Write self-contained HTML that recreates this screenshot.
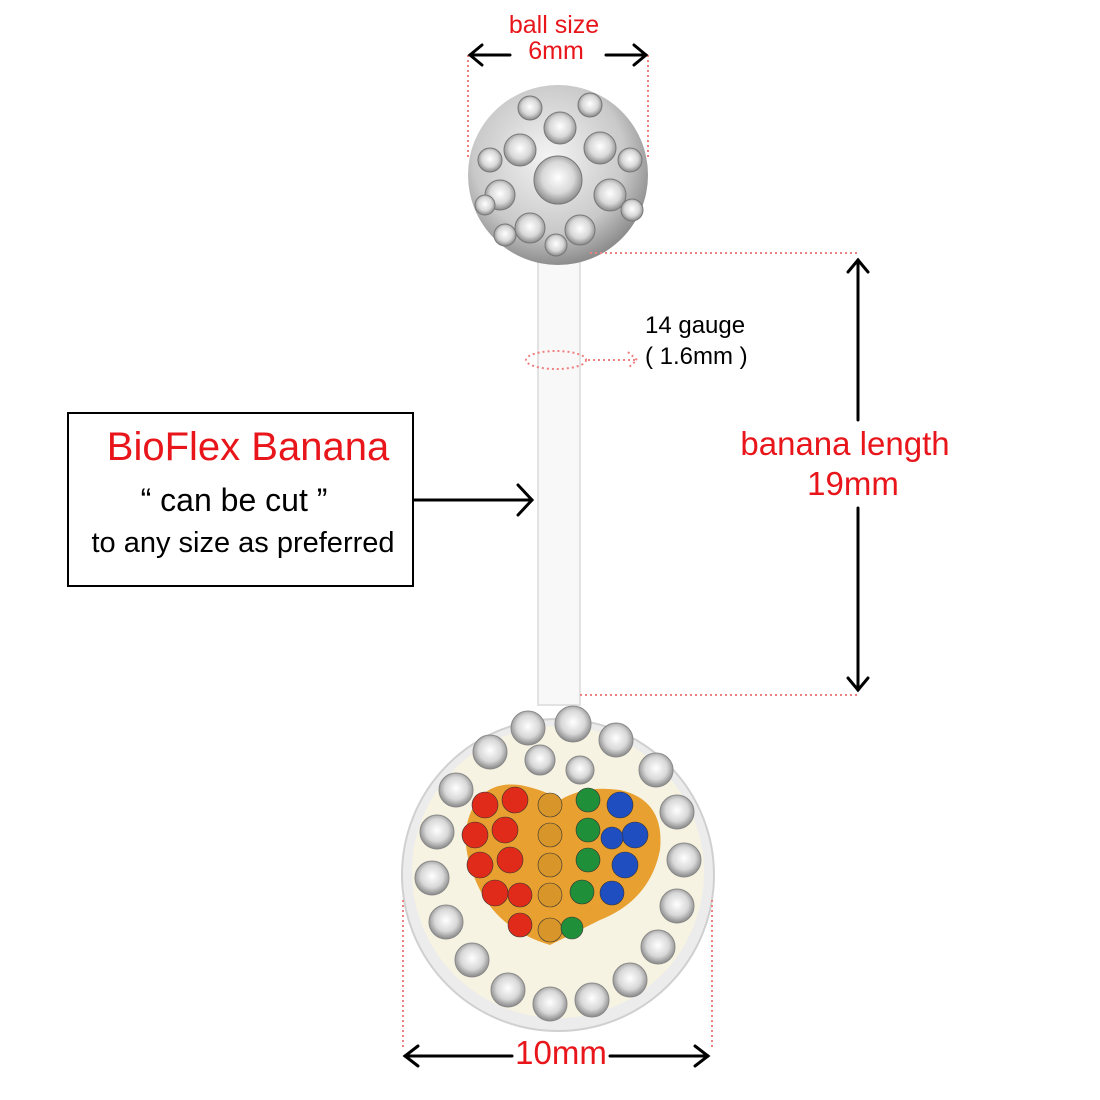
<!DOCTYPE html>
<html><head><meta charset="utf-8"><style>
html,body{margin:0;padding:0;background:#fff}
svg{display:block}
text{font-family:"Liberation Sans",sans-serif}
</style></head><body>
<svg width="1100" height="1100" viewBox="0 0 1100 1100" xmlns="http://www.w3.org/2000/svg">
<defs>
<radialGradient id="ball" cx="45%" cy="40%" r="60%">
<stop offset="0" stop-color="#f4f4f4"/><stop offset="0.7" stop-color="#c9c9c9"/><stop offset="1" stop-color="#8d8d8d"/>
</radialGradient>
<radialGradient id="cry" cx="50%" cy="45%" r="55%">
<stop offset="0" stop-color="#ffffff"/><stop offset="0.6" stop-color="#d8d8d8"/><stop offset="1" stop-color="#888"/>
</radialGradient>
</defs>
<rect x="538" y="245" width="42" height="460" fill="#f8f8f8" stroke="#e2e2e2" stroke-width="2"/>
<circle cx="558" cy="175" r="90" fill="url(#ball)"/>
<g fill="url(#cry)" stroke="#777" stroke-width="1">
<circle cx="558" cy="180" r="24"/><circle cx="520" cy="150" r="16"/><circle cx="560" cy="128" r="16"/><circle cx="600" cy="148" r="16"/>
<circle cx="610" cy="195" r="16"/><circle cx="580" cy="230" r="15"/><circle cx="530" cy="228" r="15"/><circle cx="500" cy="195" r="15"/>
<circle cx="490" cy="160" r="12"/><circle cx="530" cy="108" r="12"/><circle cx="590" cy="105" r="12"/><circle cx="630" cy="160" r="12"/>
<circle cx="632" cy="210" r="11"/><circle cx="556" cy="245" r="11"/><circle cx="505" cy="235" r="11"/><circle cx="485" cy="205" r="10"/>
</g>
<circle cx="558" cy="875" r="156" fill="#ececec" stroke="#d0d0d0" stroke-width="2"/>
<circle cx="558" cy="872" r="146" fill="#f7f3e2"/>
<g fill="url(#cry)" stroke="#888" stroke-width="1">
<circle cx="528" cy="728" r="17"/><circle cx="573" cy="724" r="18"/><circle cx="616" cy="740" r="17"/><circle cx="656" cy="770" r="17"/>
<circle cx="677" cy="812" r="17"/><circle cx="684" cy="860" r="17"/><circle cx="677" cy="906" r="17"/><circle cx="658" cy="947" r="17"/>
<circle cx="630" cy="980" r="17"/><circle cx="592" cy="1000" r="17"/><circle cx="550" cy="1004" r="17"/><circle cx="508" cy="990" r="17"/>
<circle cx="472" cy="960" r="17"/><circle cx="446" cy="922" r="17"/><circle cx="432" cy="878" r="17"/><circle cx="437" cy="832" r="17"/>
<circle cx="456" cy="790" r="17"/><circle cx="490" cy="752" r="17"/><circle cx="540" cy="760" r="15"/><circle cx="580" cy="770" r="14"/>
</g>
<path d="M468 820 Q480 780 520 785 Q545 790 560 800 Q585 785 620 790 Q665 800 660 850 Q650 900 600 920 L550 945 Q500 930 480 890 Q460 850 468 820Z" fill="#e8a030"/>
<g stroke="#333" stroke-width="0.6">
<g fill="#e02a1a"><circle cx="485" cy="805" r="13"/><circle cx="515" cy="800" r="13"/><circle cx="475" cy="835" r="13"/><circle cx="505" cy="830" r="13"/><circle cx="480" cy="865" r="13"/><circle cx="510" cy="860" r="13"/><circle cx="495" cy="893" r="13"/><circle cx="520" cy="895" r="12"/><circle cx="520" cy="925" r="12"/></g>
<g fill="#d8962a"><circle cx="550" cy="805" r="12"/><circle cx="550" cy="835" r="12"/><circle cx="550" cy="865" r="12"/><circle cx="550" cy="895" r="12"/><circle cx="550" cy="930" r="12"/></g>
<g fill="#1f8f3a"><circle cx="588" cy="800" r="12"/><circle cx="588" cy="830" r="12"/><circle cx="588" cy="860" r="12"/><circle cx="582" cy="892" r="12"/><circle cx="572" cy="928" r="11"/></g>
<g fill="#1e4ec0"><circle cx="620" cy="805" r="13"/><circle cx="635" cy="835" r="13"/><circle cx="625" cy="865" r="13"/><circle cx="612" cy="893" r="12"/><circle cx="612" cy="838" r="11"/></g>
</g>
<g stroke="#f08080" stroke-width="2" stroke-dasharray="2,3" fill="none">
<line x1="468" y1="55" x2="468" y2="160"/><line x1="648" y1="55" x2="648" y2="160"/>
<line x1="590" y1="253" x2="858" y2="253"/><line x1="580" y1="695" x2="858" y2="695"/>
<line x1="403" y1="900" x2="403" y2="1050"/><line x1="712" y1="900" x2="712" y2="1050"/>
<ellipse cx="556" cy="360" rx="30" ry="9"/><line x1="588" y1="360" x2="636" y2="360"/>
<polyline points="628,352 637,360 628,368"/>
</g>
<g stroke="#000" stroke-width="3" fill="none" stroke-linecap="round">
<line x1="470" y1="55" x2="510" y2="55"/><polyline points="482,45 470,55 482,65"/>
<line x1="606" y1="55" x2="646" y2="55"/><polyline points="634,45 646,55 634,65"/>
<line x1="858" y1="260" x2="858" y2="420"/><polyline points="848,272 858,260 868,272"/>
<line x1="858" y1="508" x2="858" y2="690"/><polyline points="848,678 858,690 868,678"/>
<line x1="414" y1="500" x2="532" y2="500"/><polyline points="518,485 532,500 518,515"/>
<line x1="405" y1="1056" x2="512" y2="1056"/><polyline points="418,1046 405,1056 418,1066"/>
<line x1="610" y1="1056" x2="708" y2="1056"/><polyline points="695,1046 708,1056 695,1066"/>
</g>
<rect x="68" y="413" width="345" height="173" fill="#fff" stroke="#000" stroke-width="2"/>
<text x="248" y="460" font-size="40" fill="#e8151b" text-anchor="middle">BioFlex Banana</text>
<text x="234" y="511" font-size="32" fill="#000" text-anchor="middle">“ can be cut ”</text>
<text x="243" y="552" font-size="29" fill="#000" text-anchor="middle">to any size as preferred</text>
<text x="554" y="33" font-size="25" fill="#e8151b" text-anchor="middle">ball size</text>
<text x="556" y="59" font-size="25" fill="#e8151b" text-anchor="middle">6mm</text>
<text x="645" y="333" font-size="24" fill="#000">14 gauge</text>
<text x="645" y="364" font-size="24" fill="#000">( 1.6mm )</text>
<text x="845" y="455" font-size="33" fill="#e8151b" text-anchor="middle">banana length</text>
<text x="853" y="495" font-size="33" fill="#e8151b" text-anchor="middle">19mm</text>
<text x="561" y="1064" font-size="33" fill="#e8151b" text-anchor="middle">10mm</text>
</svg>
</body></html>
